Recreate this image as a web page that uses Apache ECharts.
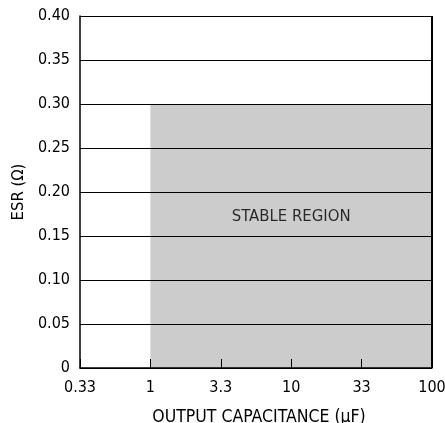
<!DOCTYPE html>
<html><head><meta charset="utf-8">
<script src="https://cdn.jsdelivr.net/npm/echarts@6/dist/echarts.min.js"></script>
<style>html,body{margin:0;padding:0;background:#fff}#c{width:445px;height:423px}</style>
</head><body><div id="c"></div>
<script>
var xTickValues = [0.33, 1, 3.3, 10, 33, 100];
var xTickLabels = ['0.33', '1', '3.3', '10', '33', '100'];
var yTickLabels = ['0', '0.05', '0.10', '0.15', '0.20', '0.25', '0.30', '0.35', '0.40'];
var stableCapMin = 1, stableCapMax = 100, stableEsrMax = 0.30;
var regionLabel = 'STABLE REGION';
var regionLabelPos = [10, 0.172];

var FONT = '"DejaVu Sans Condensed", "Liberation Sans Narrow", sans-serif';
function pos(v) {
  for (var i = 0; i < xTickValues.length - 1; i++) {
    var a = xTickValues[i], b = xTickValues[i + 1];
    if (v >= a && v <= b) return i + Math.log(v / a) / Math.log(b / a);
  }
  return v < xTickValues[0] ? 0 : xTickValues.length - 1;
}
var chart = echarts.init(document.getElementById('c'));
chart.setOption({
  animation: false,
  grid: {left: 80, right: 13, top: 16, bottom: 55, containLabel: false, outerBoundsMode: 'none'},
  xAxis: {
    type: 'value', min: 0, max: xTickValues.length - 1, interval: 1, z: 5,
    axisLine: {show: true, lineStyle: {color: '#000', width: 1.5}},
    axisTick: {show: true, inside: true, length: 9, lineStyle: {color: '#000', width: 1}},
    axisLabel: {color: '#000', fontSize: 16, fontFamily: FONT, margin: 12,
      formatter: function (v) { return xTickLabels[Math.round(v)]; }},
    splitLine: {show: false},
    name: 'OUTPUT CAPACITANCE (\u03bcF)', nameLocation: 'middle', nameGap: 40,
    nameTextStyle: {color: '#000', fontSize: 17.5, fontFamily: FONT, padding: [0, 0, 0, 6]}
  },
  yAxis: {
    type: 'value', min: 0, max: 0.4, interval: 0.05, z: 5,
    axisLine: {show: true, lineStyle: {color: '#000', width: 1.5}},
    axisTick: {show: false},
    axisLabel: {color: '#000', fontSize: 16, fontFamily: FONT, margin: 10,
      formatter: function (v) { return yTickLabels[Math.round(v / 0.05)]; }},
    splitLine: {show: true, lineStyle: {color: '#000', width: 1}},
    name: 'ESR (\u03a9)', nameLocation: 'middle', nameGap: 51, nameRotate: 90,
    nameTextStyle: {color: '#000', fontSize: 16.5, fontFamily: FONT}
  },
  graphic: [],
  series: [{
    type: 'line', data: [], z: 1,
    markArea: {silent: true, itemStyle: {color: '#cccccc'},
      data: [[{coord: [pos(stableCapMin), 0]}, {coord: [pos(stableCapMax), stableEsrMax]}]]}
  }, {
    type: 'scatter', symbolSize: 0, z: 6,
    data: [[pos(regionLabelPos[0]), regionLabelPos[1]]],
    label: {show: true, formatter: regionLabel, position: 'inside', color: '#000', fontSize: 16.6, fontFamily: FONT}
  }]
});
var r = chart.convertToPixel({xAxisIndex: 0, yAxisIndex: 0}, [xTickValues.length - 1, 0]);
var t = chart.convertToPixel({xAxisIndex: 0, yAxisIndex: 0}, [xTickValues.length - 1, 0.4]);
chart.setOption({graphic: [{type: 'line', z: 10, shape: {x1: r[0], y1: r[1], x2: t[0], y2: t[1]}, style: {stroke: '#000', lineWidth: 2}}]});
</script></body></html>
